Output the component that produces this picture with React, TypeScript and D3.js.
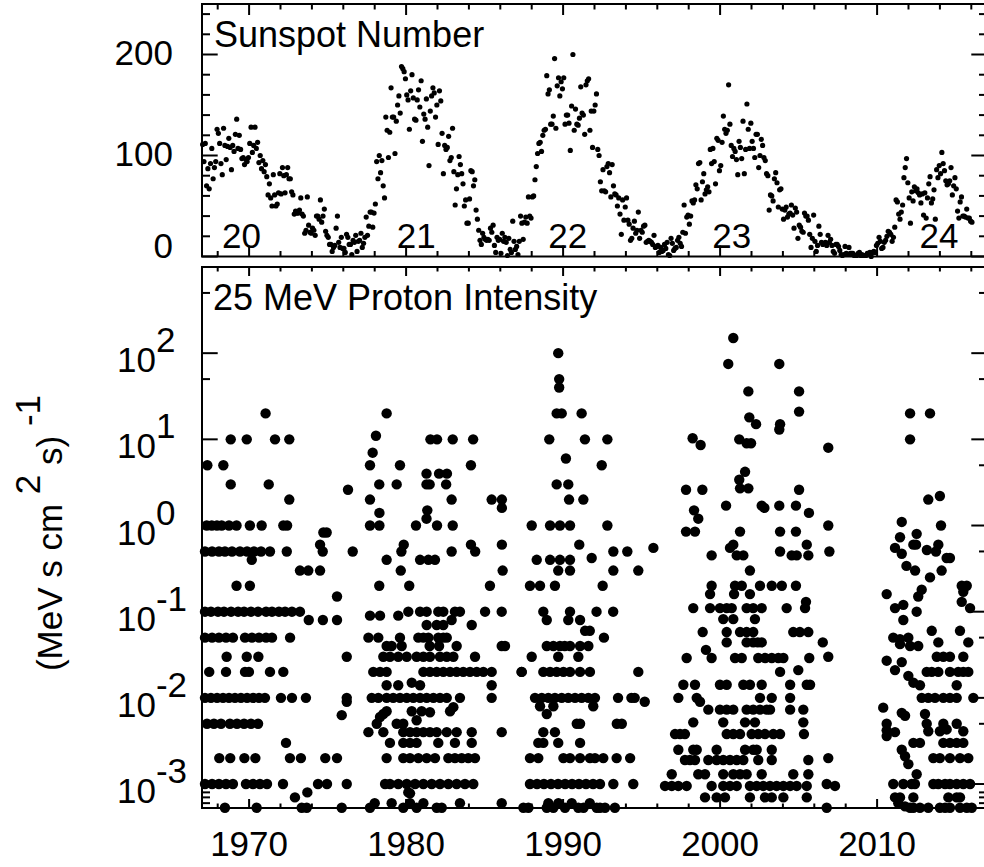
import React from "react";
import * as d3 from "d3";

const W = 984;
const H = 867;
const FONT = "'Liberation Sans', Arial, Helvetica, sans-serif";
const FL = 5.3e-4; // values at the plot floor

// Monthly sunspot number (one value per month starting January of first year)
const ssn1967to1976 = [
  111, 94, 112, 70, 87, 67, 92, 107, 77, 88, 94, 126,
  122, 112, 92, 81, 127, 110, 96, 109, 117, 108, 86, 110,
  104, 121, 136, 107, 120, 106, 97, 98, 91, 96, 94, 98,
  112, 128, 103, 110, 128, 107, 113, 93, 100, 87, 95, 84,
  91, 79, 61, 72, 58, 50, 81, 61, 50, 52, 63, 82,
  62, 88, 80, 63, 81, 88, 77, 77, 64, 61, 42, 45,
  43, 43, 46, 58, 42, 40, 23, 26, 59, 31, 24, 23,
  28, 26, 21, 40, 40, 37, 56, 34, 40, 47, 25, 21,
  19, 12, 12, 5, 9, 11, 28, 40, 14, 9, 19, 8,
  8, 4, 22, 19, 12, 12, 2, 16, 14, 21, 5, 15,
];
const ssn1977to1986 = [
  16, 23, 9, 13, 19, 39, 21, 30, 44, 44, 29, 43,
  52, 94, 77, 100, 83, 95, 70, 58, 138, 125, 98, 123,
  167, 138, 138, 102, 134, 150, 159, 142, 188, 186, 183, 176,
  160, 155, 126, 164, 180, 157, 136, 135, 155, 165, 148, 174,
  114, 141, 136, 156, 128, 90, 144, 159, 167, 162, 138, 150,
  111, 164, 154, 122, 82, 110, 106, 108, 119, 95, 98, 127,
  84, 51, 67, 81, 99, 91, 82, 72, 50, 56, 33, 33,
  57, 85, 84, 70, 76, 46, 37, 26, 16, 12, 23, 19,
  17, 16, 17, 16, 28, 24, 31, 11, 4, 19, 16, 17,
  3, 23, 15, 19, 14, 1, 18, 7, 4, 35, 15, 7,
];
const ssn1987to1996 = [
  10, 2, 15, 40, 33, 17, 34, 39, 33, 59, 40, 38,
  59, 60, 76, 89, 102, 112, 113, 104, 120, 125, 126, 179,
  161, 165, 131, 131, 139, 196, 127, 169, 177, 159, 173, 166,
  177, 131, 140, 140, 132, 105, 149, 200, 125, 146, 131, 130,
  137, 168, 142, 140, 121, 170, 174, 176, 125, 144, 108, 144,
  150, 161, 106, 100, 74, 65, 86, 65, 64, 89, 92, 83,
  59, 91, 70, 62, 61, 50, 58, 42, 22, 56, 36, 49,
  58, 36, 32, 16, 18, 28, 35, 23, 26, 44, 18, 26,
  24, 30, 31, 14, 15, 16, 15, 14, 12, 21, 9, 10,
  11, 4, 9, 5, 6, 12, 8, 14, 2, 1, 18, 13,
];
const ssn1997to2006 = [
  6, 8, 9, 16, 19, 13, 10, 24, 51, 23, 39, 41,
  32, 40, 55, 53, 56, 71, 67, 92, 93, 56, 74, 82,
  62, 66, 69, 64, 106, 92, 107, 94, 72, 117, 115, 85,
  90, 113, 139, 126, 122, 125, 170, 131, 110, 99, 107, 104,
  96, 81, 114, 108, 97, 134, 82, 106, 151, 126, 107, 132,
  114, 107, 98, 121, 121, 88, 100, 116, 110, 98, 95, 82,
  80, 46, 61, 60, 55, 77, 83, 73, 49, 66, 67, 47,
  37, 46, 49, 39, 42, 43, 51, 41, 28, 48, 44, 18,
  31, 29, 25, 24, 43, 40, 40, 36, 22, 9, 18, 41,
  15, 5, 11, 30, 22, 14, 12, 13, 14, 11, 21, 14,
];
const ssn2007to2016 = [
  17, 11, 5, 3, 12, 12, 10, 6, 2, 1, 2, 10,
  3, 2, 9, 3, 3, 3, 1, 1, 1, 3, 4, 1,
  2, 1, 1, 1, 3, 3, 4, 0, 4, 5, 4, 11,
  13, 19, 15, 8, 9, 14, 16, 20, 25, 24, 22, 15,
  19, 29, 56, 54, 42, 37, 44, 51, 78, 88, 97, 73,
  58, 33, 64, 55, 69, 65, 67, 63, 61, 53, 62, 41,
  63, 38, 58, 72, 79, 53, 57, 66, 37, 86, 78, 90,
  82, 103, 92, 85, 75, 71, 72, 75, 88, 61, 70, 78,
  67, 45, 38, 54, 59, 40, 40, 39, 47, 38, 38, 35,
  34,
];
const ssnBlocks: [number, number[]][] = [
  [1967, ssn1967to1976],
  [1977, ssn1977to1986],
  [1987, ssn1987to1996],
  [1997, ssn1997to2006],
  [2007, ssn2007to2016],
];

// 25 MeV proton intensity samples: [decimal year, intensity]
const protonsCycle20: [number, number][] = [
  [1967.34, 5], [1968.36, 5], [1968.83, 10], [1969.85, 10], [1968.83, 3], [1971.05, 20], [1971.65, 10], [1972.56, 10], [1971.25, 3], [1972.56, 2],
  [1967.3, 1], [1967.62, 1], [1967.95, 1], [1968.25, 1], [1968.72, 1], [1969.2, 1], [1970.05, 1], [1970.8, 1], [1972.18, 1], [1972.42, 1],
  [1967.19, 0.5], [1967.64, 0.5], [1968.08, 0.5], [1968.46, 0.5], [1968.91, 0.5], [1969.42, 0.5], [1969.87, 0.5], [1970.31, 0.5], [1970.76, 0.5], [1971.33, 0.5], [1972.4, 0.5],
  [1970.17, 0.4], [1973.24, 0.3], [1973.77, 0.3], [1974.52, 0.3],
  [1974.52, 0.6], [1974.69, 0.5], [1974.73, 0.83], [1974.94, 0.83], [1976.3, 2.6], [1976.6, 0.5],
  [1969.2, 0.2], [1970.05, 0.2], [1975.6, 0.15],
  [1967.19, 0.1], [1967.57, 0.1], [1968.02, 0.1], [1968.4, 0.1], [1968.85, 0.1], [1969.3, 0.1], [1969.68, 0.1], [1970.12, 0.1], [1970.57, 0.1], [1971.08, 0.1], [1971.46, 0.1], [1971.9, 0.1], [1972.29, 0.1], [1972.73, 0.1], [1973.24, 0.1],
  [1973.8, 0.08], [1974.7, 0.08], [1975.6, 0.08],
  [1967.19, 0.05], [1967.64, 0.05], [1968.08, 0.05], [1968.53, 0.05], [1968.97, 0.05], [1969.74, 0.05], [1970.18, 0.05], [1970.63, 0.05], [1971.08, 0.05], [1971.46, 0.05], [1972.61, 0.05],
  [1968.57, 0.03], [1969.85, 0.03], [1970.59, 0.03], [1976.22, 0.03],
  [1967.46, 0.02], [1968.53, 0.02], [1969.74, 0.02], [1969.99, 0.02], [1971.33, 0.02], [1972.18, 0.02],
  [1967.19, 0.01], [1967.57, 0.01], [1967.96, 0.01], [1968.34, 0.01], [1968.72, 0.01], [1969.1, 0.01], [1969.48, 0.01], [1969.87, 0.01], [1970.25, 0.01], [1970.63, 0.01], [1971.01, 0.01], [1972.03, 0.01], [1972.73, 0.01], [1973.62, 0.01], [1976.22, 0.01], [1976.22, 0.009],
  [1967.32, 0.005], [1967.76, 0.005], [1968.21, 0.005], [1968.78, 0.005], [1969.23, 0.005], [1969.68, 0.005], [1970.12, 0.005], [1970.57, 0.005], [1975.9, 0.0063],
  [1972.35, 0.003],
  [1968.1, 0.002], [1968.8, 0.002], [1969.7, 0.002], [1970.4, 0.002], [1972.6, 0.002], [1973.3, 0.002], [1974.85, 0.002], [1975.6, 0.002],
  [1967.19, 0.001], [1967.64, 0.001], [1968.08, 0.001], [1968.53, 0.001], [1968.97, 0.001], [1969.8, 0.001], [1970.25, 0.001], [1970.69, 0.001], [1971.14, 0.001], [1972.16, 0.001], [1974.39, 0.001], [1974.96, 0.001], [1976.22, 0.001],
  [1972.92, 0.0007], [1973.71, 0.0008],
  [1968.46, FL], [1970.48, FL], [1973.35, FL], [1973.67, FL], [1975.9, FL],
];
const protonsCycle21: [number, number][] = [
  [1978.08, 11], [1977.87, 7], [1978.76, 20], [1977.7, 5], [1979.61, 5], [1978.29, 3], [1979.4, 3], [1977.7, 2], [1978.3, 1.4], [1977.7, 1], [1978.3, 1],
  [1979.7, 0.5], [1979.85, 0.6], [1978.76, 0.4],
  [1981.3, 4], [1982.1, 4], [1982.6, 4], [1981.55, 10], [1981.97, 10], [1982.97, 10], [1984.27, 10], [1981.3, 3], [1981.5, 3], [1982.55, 3], [1981.35, 1.5], [1981.3, 1.2],
  [1980.63, 1], [1981.97, 1], [1982.97, 1], [1982.9, 2], [1984.13, 5], [1985.45, 2], [1986.1, 2], [1986.1, 1.6], [1986.1, 0.6], [1984.13, 0.6], [1984.4, 0.5], [1982.9, 0.5],
  [1980.89, 0.4], [1981.42, 0.4], [1981.84, 0.4], [1979.66, 0.3], [1986.15, 0.3],
  [1978.29, 0.2], [1980.2, 0.2], [1985.34, 0.2],
  [1977.7, 0.09], [1978.34, 0.09], [1979.5, 0.09], [1980.14, 0.1], [1980.89, 0.1], [1981.31, 0.1], [1982.05, 0.1], [1982.37, 0.1], [1983.11, 0.1], [1983.43, 0.1], [1985.03, 0.1], [1986.09, 0.1],
  [1982.9, 0.08], [1981.31, 0.07], [1981.95, 0.07], [1982.37, 0.07], [1984.18, 0.07],
  [1977.6, 0.05], [1978.23, 0.05], [1978.76, 0.04], [1979.08, 0.04], [1979.61, 0.05], [1979.72, 0.04],
  [1980.78, 0.05], [1981.1, 0.05], [1981.42, 0.05], [1982.05, 0.05], [1982.37, 0.05], [1982.59, 0.05], [1983.22, 0.04], [1981.5, 0.04], [1982.1, 0.04], [1986.09, 0.04], [1986.3, 0.04],
  [1978.55, 0.03], [1978.97, 0.03], [1979.5, 0.03], [1980.04, 0.03], [1980.67, 0.03], [1981.1, 0.03], [1981.52, 0.03], [1982.16, 0.03], [1982.59, 0.03], [1983.01, 0.03], [1984.39, 0.03],
  [1977.91, 0.02], [1978.34, 0.02], [1978.76, 0.02], [1981.1, 0.02], [1981.52, 0.02], [1981.95, 0.02], [1982.37, 0.02], [1982.8, 0.02], [1983.22, 0.02], [1983.64, 0.02], [1984.07, 0.02], [1984.5, 0.02], [1984.92, 0.02], [1985.45, 0.02], [1987.36, 0.02],
  [1978.76, 0.014], [1979.5, 0.014], [1980.36, 0.015], [1980.89, 0.014], [1985.45, 0.014],
  [1977.81, 0.01], [1978.23, 0.01], [1978.76, 0.01], [1979.18, 0.01], [1979.61, 0.01], [1980.04, 0.01], [1980.46, 0.01], [1980.89, 0.01], [1981.31, 0.01], [1981.74, 0.01], [1982.16, 0.01], [1982.59, 0.01], [1983.43, 0.01], [1985.45, 0.01],
  [1978.76, 0.007], [1978.55, 0.0065], [1980.36, 0.007], [1980.99, 0.007], [1981.52, 0.0068], [1982.8, 0.007], [1983.01, 0.0078],
  [1978.13, 0.005], [1978.34, 0.006], [1979.4, 0.005], [1979.82, 0.005], [1980.67, 0.0055],
  [1977.6, 0.004], [1978.55, 0.004], [1979.82, 0.004], [1980.25, 0.004], [1980.67, 0.004], [1981.1, 0.004], [1981.52, 0.004], [1981.95, 0.004], [1982.59, 0.004], [1983.22, 0.004], [1984.18, 0.004], [1986.09, 0.004],
  [1978.97, 0.003], [1979.82, 0.003], [1980.25, 0.003], [1980.67, 0.003], [1982.05, 0.003], [1983.11, 0.003], [1984.18, 0.003],
  [1978.76, 0.002], [1979.82, 0.002], [1980.25, 0.002], [1980.78, 0.002], [1981.31, 0.002], [1981.84, 0.002], [1982.69, 0.002], [1983.11, 0.002], [1983.54, 0.002], [1983.96, 0.002], [1984.39, 0.002],
  [1978.66, 0.001], [1978.97, 0.001], [1979.5, 0.001], [1980.04, 0.001], [1980.57, 0.001], [1981.1, 0.001], [1981.63, 0.001], [1982.16, 0.001], [1982.69, 0.001], [1983.22, 0.001], [1983.75, 0.001], [1984.28, 0.001],
  [1980.14, 0.0008], [1980.25, 0.00078],
  [1977.7, FL], [1978.0, 0.0006], [1979.08, 0.0006], [1979.82, FL], [1980.25, 0.0006], [1980.67, FL], [1981.1, 0.0006], [1981.95, FL], [1982.27, FL], [1983.43, 0.0006], [1986.09, 0.0006],
];
const protonsCycle22: [number, number][] = [
  [1989.69, 100], [1989.75, 50], [1989.75, 40], [1989.59, 20], [1989.91, 20], [1991.18, 20], [1989.12, 10], [1991.39, 10], [1990.18, 6], [1989.59, 3], [1990.33, 3], [1990.38, 2], [1991.29, 2],
  [1988.0, 1], [1989.17, 1], [1989.8, 1], [1990.44, 1], [1991.03, 0.6], [1992.82, 10], [1992.46, 5], [1992.82, 1], [1993.2, 0.5], [1994.09, 0.5], [1995.75, 0.55], [1991.82, 0.42],
  [1988.32, 0.4], [1989.17, 0.4], [1989.8, 0.4], [1990.44, 0.4],
  [1989.69, 0.3], [1990.44, 0.3], [1993.2, 0.3], [1994.79, 0.3],
  [1987.89, 0.2], [1988.53, 0.2], [1989.48, 0.2], [1992.52, 0.2],
  [1988.74, 0.1], [1990.44, 0.1], [1992.13, 0.1], [1993.19, 0.1], [1988.96, 0.08], [1990.33, 0.08], [1991.08, 0.08],
  [1991.4, 0.06], [1991.7, 0.06], [1992.6, 0.05],
  [1988.96, 0.04], [1989.8, 0.04], [1990.44, 0.04], [1991.08, 0.04], [1991.61, 0.04], [1989.38, 0.04], [1990.1, 0.04],
  [1988.0, 0.03], [1989.69, 0.03], [1990.97, 0.03],
  [1987.36, 0.02], [1988.74, 0.02], [1989.17, 0.02], [1989.59, 0.02], [1990.02, 0.02], [1990.44, 0.02], [1991.08, 0.02], [1991.71, 0.02], [1994.79, 0.02],
  [1988.21, 0.01], [1988.64, 0.01], [1989.06, 0.01], [1989.48, 0.01], [1989.91, 0.01], [1990.33, 0.01], [1990.76, 0.01], [1991.18, 0.01], [1991.61, 0.01], [1992.03, 0.01], [1993.5, 0.01], [1994.35, 0.01], [1994.56, 0.01], [1995.2, 0.009],
  [1988.53, 0.008], [1989.38, 0.008], [1991.92, 0.008], [1988.96, 0.0065],
  [1990.87, 0.005], [1991.08, 0.005], [1993.42, 0.005], [1993.74, 0.005],
  [1988.74, 0.004], [1989.48, 0.004],
  [1988.42, 0.003], [1988.74, 0.003], [1989.69, 0.003], [1991.08, 0.003],
  [1987.89, 0.002], [1988.42, 0.002], [1990.02, 0.002], [1990.44, 0.002], [1991.08, 0.002], [1991.71, 0.002], [1992.03, 0.002], [1992.56, 0.002], [1993.41, 0.002], [1994.27, 0.002],
  [1987.89, 0.001], [1988.34, 0.001], [1988.78, 0.001], [1989.23, 0.001], [1989.68, 0.001], [1990.13, 0.001], [1990.57, 0.001], [1991.01, 0.001], [1991.46, 0.001], [1991.91, 0.001], [1992.35, 0.001], [1993.2, 0.001], [1994.47, 0.001],
  [1987.47, FL], [1987.79, FL], [1988.96, FL], [1989.06, 0.0006], [1989.38, FL], [1989.7, 0.0006], [1990.12, FL], [1990.55, 0.0006], [1990.97, FL], [1991.3, FL], [1991.7, 0.0006], [1992.14, FL], [1992.35, FL], [1992.67, FL], [1993.3, FL],
];
const protonsCycle23: [number, number][] = [
  [2000.84, 150], [2000.52, 75], [2003.77, 75], [2001.8, 36], [2005.03, 36], [2005.03, 21], [2001.86, 18], [2002.29, 15], [2003.82, 15], [2003.77, 13],
  [1998.25, 10.3], [1998.76, 8.6], [2001.22, 10], [2001.69, 9], [2001.97, 9], [2006.89, 8],
  [2001.59, 4.2], [2001.22, 3.4], [2001.27, 2.7], [2001.8, 2.7], [1997.83, 2.6], [1998.87, 2.6], [2005.03, 2.6],
  [2000.38, 1.7], [2002.65, 1.7], [2002.82, 1.6], [2003.77, 1.7], [2004.83, 1.7], [2005.66, 1.4], [1998.34, 1.5], [1998.61, 1.2],
  [1997.83, 0.85], [1998.4, 0.85], [2001.27, 0.85], [2003.82, 0.85], [2004.83, 0.85], [2006.89, 1.0],
  [1999.46, 0.45], [2000.63, 0.55], [2000.84, 0.6], [2001.06, 0.45], [2001.48, 0.45], [2003.82, 0.5], [2004.56, 0.45], [2004.88, 0.45], [2005.62, 0.45], [2005.52, 0.6], [2006.96, 0.5],
  [2001.9, 0.3],
  [1999.46, 0.2], [2000.95, 0.2], [2001.38, 0.2], [2002.54, 0.2], [2003.29, 0.2], [2003.93, 0.2], [2004.83, 0.2], [1999.36, 0.16], [2000.89, 0.16], [2001.9, 0.16],
  [1998.29, 0.11], [1999.36, 0.11], [1999.99, 0.11], [2000.42, 0.11], [2000.74, 0.11], [2001.69, 0.11], [2002.11, 0.11], [2002.65, 0.11], [2004.24, 0.11], [2005.41, 0.11], [2005.47, 0.13],
  [2000.2, 0.082], [2000.84, 0.082], [2002.22, 0.082],
  [1998.89, 0.058], [2000.42, 0.058], [2001.27, 0.058], [2001.69, 0.058], [2002.11, 0.058], [2004.66, 0.058], [2005.08, 0.058], [2005.62, 0.058],
  [2000.42, 0.044], [2001.69, 0.044], [2002.11, 0.044], [2002.4, 0.044], [2002.65, 0.044], [2006.54, 0.044],
  [2006.89, 0.03], [1997.87, 0.029], [1999.1, 0.036], [1999.46, 0.029], [2000.95, 0.029], [2001.38, 0.029], [2002.43, 0.029], [2002.87, 0.029], [2003.29, 0.029], [2003.71, 0.029], [2004.03, 0.029], [2005.68, 0.029],
  [2003.82, 0.02], [2004.98, 0.021],
  [1997.66, 0.0142], [1998.4, 0.0142], [1999.99, 0.0142], [2000.42, 0.0142], [2001.48, 0.0142], [2001.9, 0.0142], [2002.65, 0.0142], [2004.46, 0.0142], [2005.52, 0.0142], [2005.73, 0.0142],
  [1997.34, 0.01], [1998.51, 0.01], [1998.72, 0.009], [2002.54, 0.01], [2003.29, 0.01], [2004.46, 0.01],
  [1999.25, 0.0073], [1999.99, 0.0073], [2000.42, 0.0073], [2000.84, 0.0073], [2001.69, 0.0073], [2002.11, 0.0073], [2002.54, 0.0073], [2002.97, 0.0073], [2003.18, 0.0073], [2004.46, 0.0073], [2005.3, 0.0073],
  [1998.29, 0.0052], [2000.2, 0.0052], [2001.59, 0.0052], [2002.22, 0.0052], [2005.3, 0.0052],
  [1997.13, 0.0038], [1997.45, 0.0038], [1997.76, 0.0038], [2000.42, 0.0038], [2000.84, 0.0038], [2001.27, 0.0038], [2002.01, 0.0038], [2002.43, 0.0038], [2002.86, 0.0038], [2003.39, 0.0038], [2003.82, 0.0038], [2005.34, 0.0038],
  [1997.34, 0.0025], [1998.29, 0.0025], [1998.51, 0.0025], [1999.78, 0.0025], [2001.59, 0.0025], [2002.11, 0.0025], [2002.33, 0.0025], [2003.29, 0.0025],
  [1997.76, 0.0019], [1998.08, 0.0019], [1998.4, 0.0019], [1999.25, 0.0019], [1999.78, 0.0019], [2000.2, 0.0019], [2000.63, 0.0019], [2001.06, 0.0019], [2001.48, 0.0019], [2002.43, 0.0019], [2003.29, 0.0019], [2005.62, 0.0019], [2006.89, 0.002],
  [1996.92, 0.0013], [1998.61, 0.0013], [1999.04, 0.0013], [2000.2, 0.0013], [2000.84, 0.0013], [2001.27, 0.0013], [2001.69, 0.0013], [2002.65, 0.0013], [2004.66, 0.0013], [2005.62, 0.0013],
  [1996.49, 0.00095], [1996.92, 0.00095], [1997.34, 0.00095], [1997.87, 0.00095], [1999.46, 0.00095], [2000.2, 0.00095], [2000.63, 0.00095], [2001.06, 0.00095], [2001.9, 0.00095], [2002.33, 0.00095], [2002.75, 0.00095], [2003.18, 0.00095], [2003.6, 0.00095], [2004.03, 0.00095], [2004.46, 0.00095], [2004.88, 0.00095], [2005.52, 0.00095],
  [2006.79, 0.001], [2007.32, 0.00095],
  [1999.04, 0.0007], [1999.78, 0.0007], [2000.31, 0.0007], [2001.9, 0.0007], [2002.86, 0.0007], [2003.29, 0.0007], [2004.03, 0.0007], [2005.52, 0.0007],
  [2006.79, FL],
];
const protonsCycle24: [number, number][] = [
  [2012.1, 20], [2013.37, 20], [2012.1, 10], [2013.26, 2], [2014.0, 2.2], [2014.07, 1], [2011.57, 1.1], [2011.46, 0.73], [2012.52, 0.8], [2012.48, 0.6], [2013.9, 0.6], [2013.75, 0.5], [2011.14, 0.55], [2011.57, 0.47], [2014.43, 0.42], [2014.64, 0.42], [2012.31, 0.6], [2013.17, 0.52],
  [2011.87, 0.34], [2012.42, 0.3], [2014.11, 0.3], [2013.37, 0.25],
  [2010.61, 0.16], [2011.14, 0.11], [2011.67, 0.12], [2012.52, 0.1], [2011.67, 0.08], [2012.84, 0.18], [2012.62, 0.15],
  [2015.39, 0.2], [2015.71, 0.2], [2015.49, 0.17], [2015.39, 0.13], [2015.92, 0.11],
  [2011.03, 0.05], [2011.46, 0.048], [2011.99, 0.05], [2011.46, 0.042], [2012.1, 0.04], [2012.62, 0.04],
  [2013.48, 0.06], [2013.9, 0.044], [2015.28, 0.06], [2015.81, 0.044],
  [2010.61, 0.027], [2011.14, 0.021], [2011.57, 0.026], [2011.99, 0.018], [2012.31, 0.015], [2012.73, 0.014],
  [2013.8, 0.03], [2014.22, 0.03], [2014.64, 0.03], [2015.49, 0.03],
  [2013.16, 0.02], [2013.48, 0.02], [2013.9, 0.02], [2014.64, 0.02], [2015.17, 0.02], [2015.49, 0.02], [2015.81, 0.02], [2015.07, 0.014],
  [2012.84, 0.01], [2013.26, 0.01], [2013.69, 0.01], [2014.22, 0.01], [2014.64, 0.01], [2015.07, 0.01], [2016.13, 0.01],
  [2010.39, 0.0077], [2011.57, 0.0067], [2011.78, 0.0062],
  [2010.61, 0.005], [2010.61, 0.0042], [2011.14, 0.004], [2010.61, 0.0036],
  [2013.05, 0.0065], [2013.16, 0.005], [2013.26, 0.0041], [2012.31, 0.003], [2012.73, 0.003],
  [2014.22, 0.005], [2014.43, 0.0043], [2015.07, 0.005], [2014.0, 0.0041], [2014.22, 0.003], [2014.64, 0.003], [2015.07, 0.003], [2015.49, 0.003], [2015.49, 0.0041],
  [2011.57, 0.0025], [2011.78, 0.0021], [2011.99, 0.0017], [2012.52, 0.0013],
  [2013.58, 0.002], [2014.0, 0.002], [2014.64, 0.002], [2015.28, 0.002], [2015.81, 0.002],
  [2011.03, 0.001], [2011.67, 0.001], [2012.2, 0.001], [2012.41, 0.001], [2013.58, 0.001], [2013.9, 0.001], [2014.33, 0.001], [2014.64, 0.001], [2015.07, 0.001], [2015.49, 0.001], [2015.92, 0.001],
  [2011.14, 0.0007], [2011.46, 0.0007], [2012.31, 0.0007], [2014.54, 0.0007], [2015.07, 0.0007], [2015.28, 0.0007],
  [2011.35, 0.0006], [2011.78, 0.00055], [2012.1, FL], [2012.31, FL], [2012.73, FL], [2013.26, FL], [2014.0, FL], [2014.33, FL], [2014.64, FL], [2015.28, FL], [2015.71, FL], [2016.03, FL],
];

const yearLabels = [1970, 1980, 1990, 2000, 2010];
const ssnLabels = [0, 100, 200];
const logExponents = [-3, -2, -1, 0, 1, 2];
const logMinorTicks = [6e-4, 7e-4, 8e-4, 5e-3, 5e-2, 5e-1, 5, 50, 500];
const cycleLabels: [string, number][] = [
  ["20", 1968.27], ["21", 1979.4], ["22", 1989.05], ["23", 1999.5], ["24", 2012.7],
];

export default function App() {
  const L = 202, R = 987;
  const topT = 4, topB = 256.5;
  const botT = 267, botB = 808;

  const x = d3.scaleLinear().domain([1967, 2017]).range([L, R]);
  const yS = d3.scaleLinear().domain([0, 250]).range([topB, topT]);
  const yP = d3.scaleLog().domain([5.27e-4, 1000]).range([botB, botT]);

  const ssnPoints: [number, number][] = [];
  ssnBlocks.forEach(([start, vals]) => {
    vals.forEach((v, i) => ssnPoints.push([start + (i + 0.5) / 12, v]));
  });
  const protons = [
    ...protonsCycle20, ...protonsCycle21, ...protonsCycle22, ...protonsCycle23, ...protonsCycle24,
  ];

  const yearMinor = d3.range(1968, 2017, 2).filter((y) => y % 10 !== 0);
  const ssnMinor = d3.range(20, 250, 20).filter((v) => v % 100 !== 0);

  const sw = 2;
  const xTicks = (yTop: number, yBot: number, majLen: number, minLen: number, key: string) => (
    <g key={key} stroke="#000" strokeWidth={sw}>
      {yearLabels.map((yr) => (
        <g key={"M" + yr}>
          <line x1={x(yr)} x2={x(yr)} y1={yTop} y2={yTop + majLen} />
          <line x1={x(yr)} x2={x(yr)} y1={yBot} y2={yBot - majLen} />
        </g>
      ))}
      {yearMinor.map((yr) => (
        <g key={"m" + yr}>
          <line x1={x(yr)} x2={x(yr)} y1={yTop} y2={yTop + minLen} />
          <line x1={x(yr)} x2={x(yr)} y1={yBot} y2={yBot - minLen} />
        </g>
      ))}
    </g>
  );

  const yMaj = 15.7, yMin = 8;

  return (
    <svg
      width={W}
      height={H}
      viewBox={`0 0 ${W} ${H}`}
      style={{ position: "absolute", left: 0, top: 0, display: "block" }}
      fontFamily={FONT}
    >
      <rect x={0} y={0} width={W} height={H} fill="#fff" />

      {/* Top panel */}
      {ssnPoints.map(([t, v], i) => (
        <circle key={"s" + i} cx={x(t)} cy={yS(v)} r={2.6} fill="#000" />
      ))}
      <rect x={L} y={topT} width={R - L} height={topB - topT} fill="none" stroke="#000" strokeWidth={sw} />
      {xTicks(topT, topB, 11, 5.5, "xt-top")}
      <g stroke="#000" strokeWidth={sw}>
        {ssnLabels.map((v) => (
          <g key={"sm" + v}>
            <line x1={L} x2={L + yMaj} y1={yS(v)} y2={yS(v)} />
            <line x1={R} x2={R - yMaj} y1={yS(v)} y2={yS(v)} />
          </g>
        ))}
        {ssnMinor.map((v) => (
          <g key={"sn" + v}>
            <line x1={L} x2={L + yMin} y1={yS(v)} y2={yS(v)} />
            <line x1={R} x2={R - yMin} y1={yS(v)} y2={yS(v)} />
          </g>
        ))}
      </g>
      {ssnLabels.map((v) => (
        <text
          key={"sl" + v}
          x={173}
          y={v === 0 ? 258 : yS(v) + 10}
          fontSize={35}
          textAnchor="end"
          fill="#000"
        >
          {v}
        </text>
      ))}
      <text x={214} y={47} fontSize={36} fill="#000">Sunspot Number</text>
      {cycleLabels.map(([lab, yr]) => (
        <text key={"c" + lab} x={x(yr)} y={248} fontSize={35} fill="#000">
          {lab}
        </text>
      ))}

      {/* Bottom panel */}
      {protons.map(([t, v], i) => (
        <circle key={"p" + i} cx={x(t)} cy={yP(v)} r={5.2} fill="#000" />
      ))}
      <rect x={L} y={botT} width={R - L} height={botB - botT} fill="none" stroke="#000" strokeWidth={sw} />
      {xTicks(botT, botB, 9, 4.5, "xt-bot")}
      <g stroke="#000" strokeWidth={sw}>
        {logExponents.map((e) => (
          <g key={"lm" + e}>
            <line x1={L} x2={L + yMaj} y1={yP(Math.pow(10, e))} y2={yP(Math.pow(10, e))} />
            <line x1={R} x2={R - yMaj} y1={yP(Math.pow(10, e))} y2={yP(Math.pow(10, e))} />
          </g>
        ))}
        {logMinorTicks.map((v) => (
          <g key={"ln" + v}>
            <line x1={L} x2={L + yMin} y1={yP(v)} y2={yP(v)} />
            <line x1={R} x2={R - yMin} y1={yP(v)} y2={yP(v)} />
          </g>
        ))}
      </g>
      {logExponents.map((e) => (
        <text key={"ll" + e} x={117} y={yP(Math.pow(10, e)) + 19} fontSize={35} fill="#000">
          10
          <tspan dy={-20}>{e}</tspan>
        </text>
      ))}
      <text x={213} y={310} fontSize={36} fill="#000">25 MeV Proton Intensity</text>
      {yearLabels.map((yr) => (
        <text key={"yl" + yr} x={x(yr)} y={856} fontSize={35} textAnchor="middle" fill="#000">
          {yr}
        </text>
      ))}
      <text transform="translate(62,533) rotate(-90)" fontSize={35} textAnchor="middle" fill="#000">
        (MeV s cm
        <tspan dy={-22}> 2</tspan>
        <tspan dy={22}> s)</tspan>
        <tspan dy={-22}> -1</tspan>
      </text>
    </svg>
  );
}
